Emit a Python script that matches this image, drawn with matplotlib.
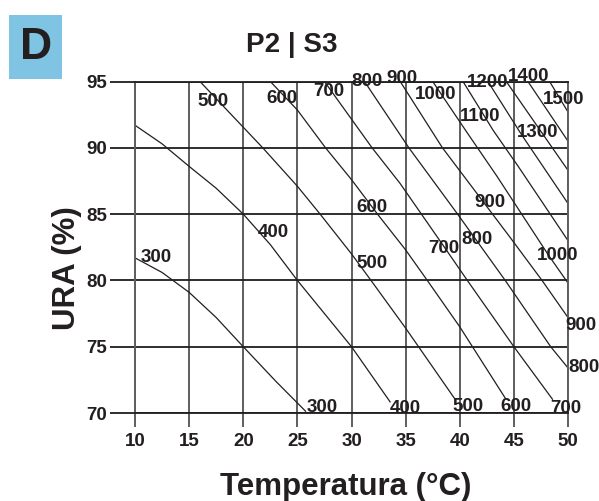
import matplotlib
matplotlib.use("Agg")
import matplotlib.pyplot as plt
from matplotlib.patches import Rectangle

plt.rcParams['font.family'] = ['Liberation Sans', 'DejaVu Sans']

INK = '#231f20'

# ---- data: iso-lines (temperature °C, relative humidity %) ----
T_300 = [10.0, 12.5, 15.0, 17.5, 20.0, 23.0, 25.8]
RH_300 = [81.7, 80.6, 79.1, 77.2, 75.0, 72.4, 70.1]

T_400 = [10.0, 12.5, 15.0, 17.5, 20.0, 22.5, 25.0, 27.5, 30.0, 33.6]
RH_400 = [91.7, 90.3, 88.6, 86.95, 85.0, 82.7, 80.0, 77.5, 75.0, 70.8]

T_500 = [16.0, 21.8, 25.0, 27.1, 30.0, 31.8, 35.0, 39.6]
RH_500 = [95.0, 90.0, 87.1, 85.0, 82.0, 80.0, 76.4, 71.0]

T_600 = [22.5, 25.0, 27.6, 30.0, 32.4, 35.0, 37.0, 40.0, 44.3]
RH_600 = [95.0, 92.85, 90.0, 87.6, 85.0, 82.3, 80.0, 76.5, 71.0]

T_700 = [27.5, 31.9, 34.5, 38.5, 40.7, 45.0, 48.6]
RH_700 = [95.0, 90.0, 87.3, 82.6, 80.0, 75.0, 71.0]

T_800 = [31.2, 35.3, 39.8, 44.2, 48.4, 50.0]
RH_800 = [95.0, 90.0, 85.0, 80.0, 75.0, 73.4]

T_900 = [34.5, 38.4, 44.6, 47.6, 50.0]
RH_900 = [95.0, 90.0, 83.3, 80.0, 77.2]

T_1000 = [37.5, 40.8, 43.4, 48.2, 50.0]
RH_1000 = [95.0, 91.0, 87.9, 81.9, 79.8]

T_1100 = [40.3, 43.1, 45.4, 50.0]
RH_1100 = [95.0, 91.3, 88.6, 83.0]

T_1200 = [42.6, 45.7, 50.0]
RH_1200 = [95.0, 91.0, 85.8]

T_1300 = [44.3, 47.7, 50.0]
RH_1300 = [95.0, 91.0, 88.3]

T_1400 = [46.3, 50.0]
RH_1400 = [95.0, 90.5]

T_1500 = [48.3, 50.0]
RH_1500 = [95.0, 92.7]

LINES = [(T_300, RH_300), (T_400, RH_400), (T_500, RH_500), (T_600, RH_600),
         (T_700, RH_700), (T_800, RH_800), (T_900, RH_900), (T_1000, RH_1000),
         (T_1100, RH_1100), (T_1200, RH_1200), (T_1300, RH_1300),
         (T_1400, RH_1400), (T_1500, RH_1500)]

# ---- inline labels (text, temperature of centre, RH of baseline) ----
LABEL_TEXT = ['500', '600', '700', '800', '900', '1000', '1100', '1200', '1300', '1400', '1500',
              '400', '600', '500', '700', '800', '900', '1000',
              '300', '300', '400', '500', '600', '700', '800', '900']
LABEL_T = [17.2, 23.6, 27.9, 31.4, 34.7, 37.8, 41.9, 42.6, 47.2, 46.4, 49.6,
           22.8, 31.9, 31.9, 38.5, 41.6, 42.8, 49.0,
           11.95, 27.3, 35.0, 40.8, 45.2, 49.8, 51.5, 51.2]
LABEL_RH = [93.17, 93.37, 93.87, 94.67, 94.87, 93.67, 92.02, 94.57, 90.82, 95.07, 93.27,
            83.27, 85.17, 80.97, 82.07, 82.72, 85.57, 81.57,
            81.42, 70.07, 70.02, 70.12, 70.12, 70.02, 73.12, 76.27]

X_TICKS = [10, 15, 20, 25, 30, 35, 40, 45, 50]
Y_TICKS = [70, 75, 80, 85, 90, 95]

TITLE = 'P2 | S3'
PANEL = 'D'
XLABEL = 'Temperatura (°C)'
YLABEL = 'URA (%)'

# ---- figure ----
W, H = 599, 501
fig = plt.figure(figsize=(W / 100, H / 100), dpi=100)
ax = fig.add_axes([135 / W, (H - 413) / H, (568 - 135) / W, (413 - 81.5) / H])
ax.set_xlim(10, 50)
ax.set_ylim(70, 95)

VCOL = '#5e5e5e'
HCOL = '#1e1e1e'
ax.set_xticks(X_TICKS)
ax.set_yticks(Y_TICKS)
ax.xaxis.grid(True, color=VCOL, lw=1.4)
ax.yaxis.grid(True, color=HCOL, lw=1.3)
ax.set_axisbelow(True)
for s in ['left', 'right']:
    ax.spines[s].set_color(VCOL)
    ax.spines[s].set_linewidth(1.4)
for s in ['top', 'bottom']:
    ax.spines[s].set_color(HCOL)
    ax.spines[s].set_linewidth(1.3)

ax.tick_params(axis='x', direction='out', length=10, width=1.4, color=VCOL,
               pad=4.5, labelsize=13.5, labelcolor=INK)
ax.tick_params(axis='y', direction='out', length=18, width=1.3, color=HCOL,
               pad=2, labelsize=13.5, labelcolor=INK)
for lab in ax.get_xticklabels() + ax.get_yticklabels():
    lab.set_fontweight('bold')

for t, rh in LINES:
    ax.plot(t, rh, color=INK, lw=0.9, solid_capstyle='butt', solid_joinstyle='round')

for s, x, y in zip(LABEL_TEXT, LABEL_T, LABEL_RH):
    ax.text(x, y, s, ha='center', va='baseline', fontsize=13.5,
            fontweight='bold', color=INK, clip_on=False)

# title, panel box, axis labels
fig.text(292 / W, 1 - 45 / H, TITLE, ha='center', va='center',
         fontsize=20, fontweight='bold', color=INK)
fig.patches.append(Rectangle((9 / W, (H - 79) / H), 53 / W, 64 / H,
                             transform=fig.transFigure, facecolor='#80c4e3',
                             edgecolor='none'))
fig.text(36 / W, 1 - 47.5 / H, PANEL, ha='center', va='center',
         fontsize=32, fontweight='bold', color=INK)
fig.text(345.5 / W, 1 - 487 / H, XLABEL, ha='center', va='center',
         fontsize=22.5, fontweight='bold', color=INK)
fig.text(66.7 / W, 1 - 268 / H, YLABEL, ha='center', va='center', rotation=90,
         fontsize=22.5, fontweight='bold', color=INK)

fig.savefig('out.png', dpi=100)
